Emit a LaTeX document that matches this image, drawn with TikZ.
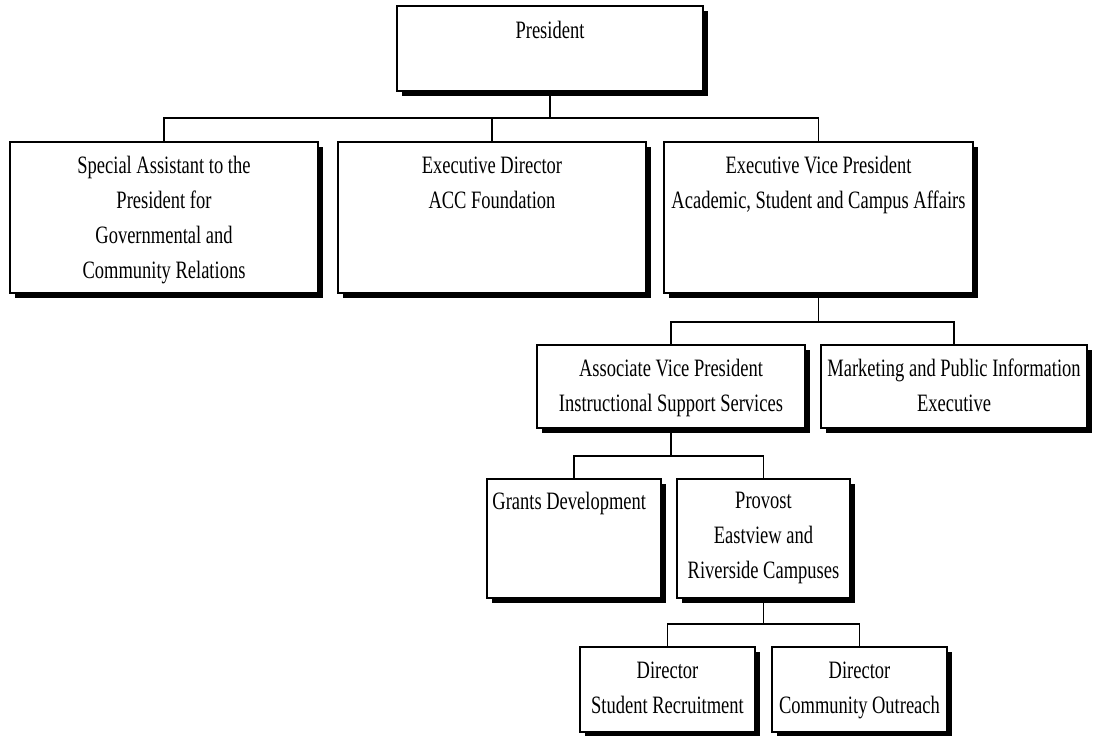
\documentclass[tikz,border=0pt]{standalone}
\usepackage{fontspec}
\setmainfont[FakeStretch=0.74]{Liberation Serif}
\usetikzlibrary{shadows}
\begin{document}
\begin{tikzpicture}[x=1pt,y=-1pt,
  orgbox/.style={draw=black, line width=1.5pt, fill=white, inner sep=0pt,
    drop shadow={shadow xshift=4.5pt, shadow yshift=-5pt, fill=black, opacity=1}},
  boxtext/.style={anchor=north, inner sep=0pt, align=center,
    font=\fontsize{25}{35}\selectfont},
  link/.style={draw=black, line width=1.1pt}]
\useasboundingbox[fill=white] (0,0) rectangle (1096,736);

% boxes
\node[orgbox, minimum width=306pt, minimum height=85pt]  (pres)   at (550,48.5)   {};
\node[orgbox, minimum width=308pt, minimum height=151pt] (sa)     at (164,217.5)  {};
\node[orgbox, minimum width=308pt, minimum height=151pt] (ed)     at (492,217.5)  {};
\node[orgbox, minimum width=309pt, minimum height=151pt] (evp)    at (818.5,217.5){};
\node[orgbox, minimum width=268pt, minimum height=83pt]  (avp)    at (671,386.5)  {};
\node[orgbox, minimum width=266pt, minimum height=83pt]  (mkt)    at (954,386.5)  {};
\node[orgbox, minimum width=174pt, minimum height=119pt] (grants) at (574,538.5)  {};
\node[orgbox, minimum width=173pt, minimum height=119pt] (prov)   at (763.5,538.5){};
\node[orgbox, minimum width=175pt, minimum height=85pt]  (sr)     at (667.5,689.5){};
\node[orgbox, minimum width=175pt, minimum height=85pt]  (co)     at (859.5,689.5){};

% texts
\node[boxtext] (presT) at ([yshift=-16pt]pres.north) {President};
\node[boxtext] (saT) at ([yshift=-15pt]sa.north)
  {Special Assistant to the\\President for\\Governmental and\\Community Relations};
\node[boxtext] (edT) at ([yshift=-15pt]ed.north) {Executive Director\\ACC Foundation};
\node[boxtext] (evpT) at ([yshift=-15pt]evp.north)
  {Executive Vice President\\Academic, Student and Campus Affairs};
\node[boxtext] (avpT) at ([yshift=-15pt]avp.north)
  {Associate Vice President\\Instructional Support Services};
\node[boxtext] (mktT) at ([yshift=-14pt]mkt.north)
  {Marketing and Public Information\\Executive};
\node[boxtext, anchor=north west, align=left] (grantsT) at ([xshift=6pt,yshift=-14pt]grants.north west)
  {Grants Development};
\node[boxtext] (provT) at ([yshift=-14pt]prov.north)
  {Provost\\Eastview and\\Riverside Campuses};
\node[boxtext] (srT) at ([yshift=-15pt]sr.north) {Director\\Student Recruitment};
\node[boxtext] (coT) at ([yshift=-15pt]co.north) {Director\\Community Outreach};

% connector levels
\coordinate (bus1) at (0,118);
\coordinate (bus2) at (0,322);
\coordinate (bus3) at (0,456);
\coordinate (bus4) at (0,624);

\draw[link] (pres.south) -- (pres.south |- bus1);
\draw[link] (sa.north) -- (sa.north |- bus1) -- (evp.north |- bus1) -- (evp.north);
\draw[link] (ed.north) -- (ed.north |- bus1);

\draw[link] (evp.south) -- (evp.south |- bus2);
\draw[link] (avp.north) -- (avp.north |- bus2) -- (mkt.north |- bus2) -- (mkt.north);

\draw[link] (avp.south) -- (avp.south |- bus3);
\draw[link] (grants.north) -- (grants.north |- bus3) -- (prov.north |- bus3) -- (prov.north);

\draw[link] (prov.south) -- (prov.south |- bus4);
\draw[link] (sr.north) -- (sr.north |- bus4) -- (co.north |- bus4) -- (co.north);
\end{tikzpicture}
\end{document}
